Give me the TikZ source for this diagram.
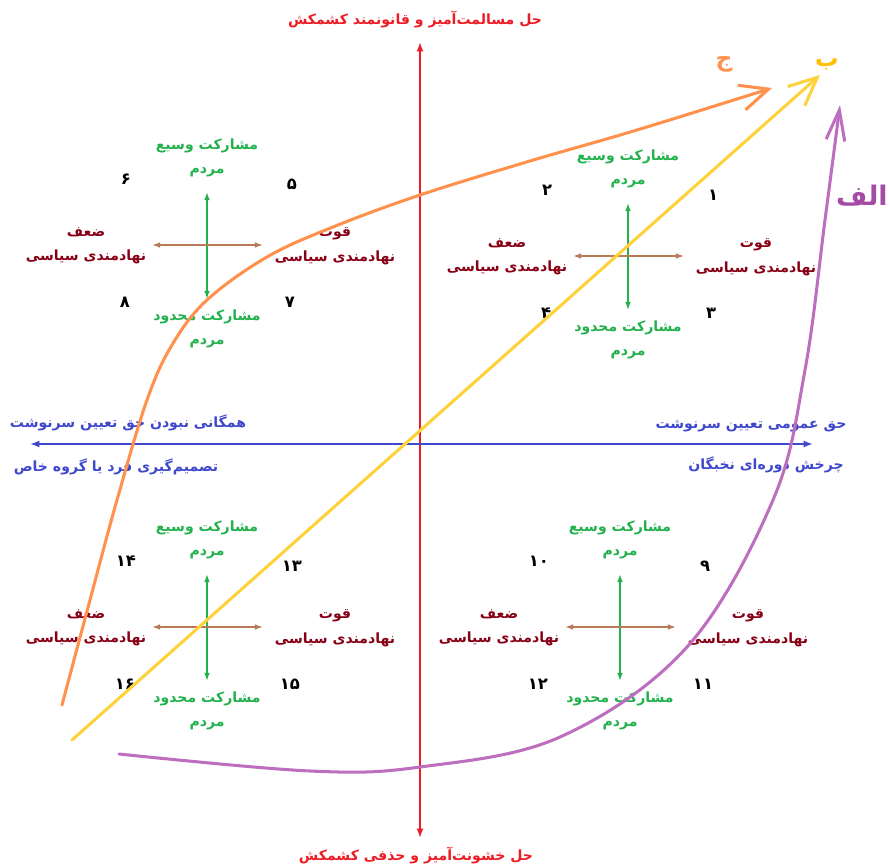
\documentclass[tikz,border=0pt]{standalone}
\usepackage{fontspec}
\usepackage{tikz}
\usetikzlibrary{arrows.meta}
\newfontfamily\farsifont[Script=Arabic]{DejaVu Sans}
\TeXXeTstate=1
\newcommand{\rtl}[1]{\beginR#1\endR}

\definecolor{conflictred}{RGB}{237,28,36}
\definecolor{fateblue}{RGB}{63,72,204}
\definecolor{sharegreen}{RGB}{34,177,76}
\definecolor{instbrown}{RGB}{185,122,87}
\definecolor{instred}{RGB}{136,0,21}
\definecolor{pathorange}{RGB}{255,145,77}
\definecolor{pathyellow}{RGB}{255,210,60}
\definecolor{pathgold}{RGB}{255,190,0}
\definecolor{pathpurple}{RGB}{190,110,190}
\definecolor{labelpurple}{RGB}{165,75,165}

\begin{document}
\begin{tikzpicture}[
    x=0.03cm, y=-0.03cm,
    every node/.style={font=\farsifont\bfseries\fontsize{12}{21}\selectfont, inner sep=1pt, align=center},
    axisred/.style={draw=conflictred, line width=1.7pt, {Latex[length=8pt,width=6pt]}-{Latex[length=8pt,width=6pt]}},
    axisblue/.style={draw=fateblue, line width=1.7pt, {Latex[length=8pt,width=6pt]}-{Latex[length=8pt,width=6pt]}},
    sharearrow/.style={draw=sharegreen, line width=1.6pt, {Latex[length=7pt,width=5pt]}-{Latex[length=7pt,width=5pt]}},
    instarrow/.style={draw=instbrown, line width=1.6pt, {Latex[length=7pt,width=5pt]}-{Latex[length=7pt,width=5pt]}},
    sharetext/.style={text=sharegreen},
    insttext/.style={text=instred},
    numtext/.style={text=black, font=\farsifont\bfseries\fontsize{14}{16}\selectfont},
    pathline/.style={line width=2.6pt, line cap=round, line join=round}
]
\useasboundingbox (0,0) rectangle (890,867);

% main axes
\coordinate (peace) at (420,42);
\coordinate (violence) at (420,838);
\coordinate (elite) at (30,444);
\coordinate (public) at (813,444);
\draw[axisred] (violence) -- (peace);
\draw[axisblue] (elite) -- (public);

\node[text=conflictred] (peacetext) at (415,20) {\rtl{حل مسالمت‌آمیز و قانونمند کشمکش}};
\node[text=conflictred] (violencetext) at (416,855) {\rtl{حل خشونت‌آمیز و حذفی کشمکش}};
\node[text=fateblue] (notall) at (128,423) {\rtl{همگانی نبودن حق تعیین سرنوشت}};
\node[text=fateblue] (fewdecide) at (116,467) {\rtl{تصمیم‌گیری فرد یا گروه خاص}};
\node[text=fateblue] (allright) at (751,426) {\rtl{حق عمومی تعیین سرنوشت}};
\node[text=fateblue] (rotation) at (766,465) {\rtl{چرخش دوره‌ای نخبگان}};

% four small crosses
\foreach \q/\cx/\cy/\ntl/\ntr/\nbl/\nbr in {a/628/256/۲/۱/۴/۳, b/207/245/۶/۵/۸/۷, c/207/627/۱۴/۱۳/۱۶/۱۵, d/620/627/۱۰/۹/۱۲/۱۱}{
  \begin{scope}[shift={(\cx,\cy)}]
    \coordinate (\q-n) at (0,-53);
    \coordinate (\q-s) at (0,54);
    \coordinate (\q-w) at (-55,0);
    \coordinate (\q-e) at (56,0);
    \draw[sharearrow] (\q-s) -- (\q-n);
    \draw[instarrow] (\q-w) -- (\q-e);
    \node[sharetext] (\q-wide) at (0,-87) {\rtl{مشارکت وسیع}\\\rtl{مردم}};
    \node[sharetext] (\q-narrow) at (0,84) {\rtl{مشارکت محدود}\\\rtl{مردم}};
    \node[insttext] (\q-weak) at (-121,1) {\rtl{ضعف}\\\rtl{نهادمندی سیاسی}};
    \node[insttext] (\q-strong) at (128,1) {\rtl{قوت}\\\rtl{نهادمندی سیاسی}};
    \node[numtext] (\q-tl) at (-81,-66) {\ntl};
    \node[numtext] (\q-tr) at (85,-61) {\ntr};
    \node[numtext] (\q-bl) at (-82,57) {\nbl};
    \node[numtext] (\q-br) at (83,57) {\nbr};
  \end{scope}
}

% development paths
\coordinate (orange-start) at (62,705);
\coordinate (orange-end) at (772,88);
\coordinate (yellow-start) at (72,740);
\coordinate (yellow-end) at (820,75);
\coordinate (purple-start) at (119,754);
\coordinate (purple-end) at (840,105);

\draw[pathline, draw=pathorange, -{Straight Barb[length=24pt,width=22pt]}]
  plot[smooth, tension=0.6] coordinates {(orange-start) (90,600) (117,500) (147,400) (172,345) (207,300) (267,257) (333,227) (420,195) (530,161) (637,130) (orange-end)};
\draw[pathline, draw=pathyellow, -{Straight Barb[length=24pt,width=22pt]}] (yellow-start) -- (yellow-end);
\draw[pathline, draw=pathpurple, -{Straight Barb[length=26pt,width=16pt]}]
  plot[smooth, tension=0.6] coordinates {(purple-start) (310,771) (420,767) (560,737) (687,647) (773,500) (805,370) (825,220) (purple-end)};

\node[text=pathorange, font=\farsifont\bfseries\fontsize{20}{22}\selectfont] (orange-label) at (724,64) {\rtl{ج}};
\node[text=pathgold, font=\farsifont\bfseries\fontsize{20}{22}\selectfont] (yellow-label) at (827,64) {\rtl{ب}};
\node[text=labelpurple, font=\farsifont\bfseries\fontsize{23}{25}\selectfont, anchor=east] (purple-label) at (889,196) {\rtl{الف}};

\end{tikzpicture}
\end{document}
